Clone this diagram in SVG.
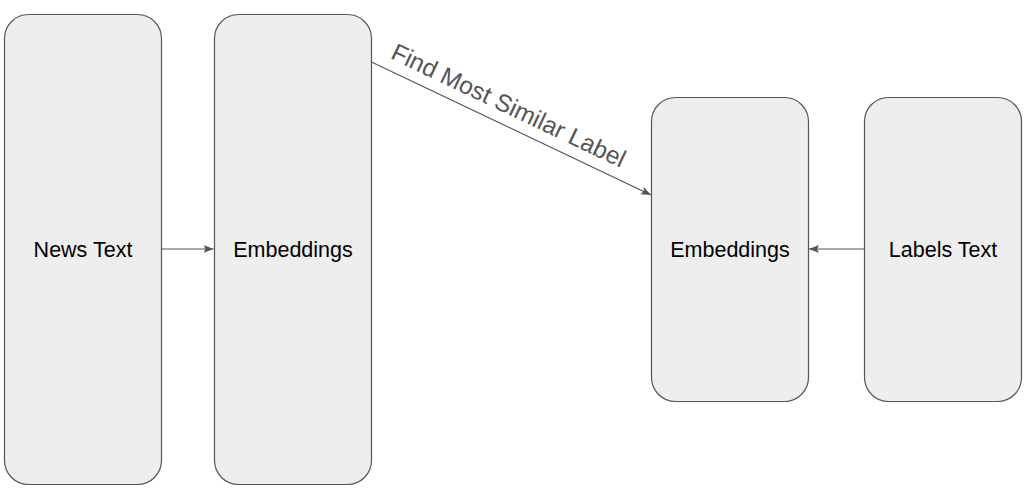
<svg xmlns="http://www.w3.org/2000/svg" width="1032" height="496" viewBox="0 0 1032 496">
<style>
.box{fill:#eeeeee;stroke:#555555;stroke-width:1.2}
.lbl{font-family:"Liberation Sans",Arial,sans-serif;font-size:21.5px;fill:#000000;text-anchor:middle;dominant-baseline:central}
.edge{stroke:#555555;stroke-width:1.2;fill:none}
.elbl{font-family:"Liberation Sans",Arial,sans-serif;font-size:24.5px;fill:#555555;text-anchor:middle}
</style>
<defs>
<marker id="ah" viewBox="0 0 10 10" refX="10" refY="5" markerWidth="10" markerHeight="10" markerUnits="userSpaceOnUse" orient="auto">
<path d="M0,1 L10,5 L0,9 L2,5 Z" fill="#555555"/>
</marker>
</defs>
<rect width="1032" height="496" fill="#ffffff"/>
<g id="news-text"><rect class="box" x="4.5" y="14.5" width="157" height="470" rx="24"/><text class="lbl" x="83" y="250">News Text</text></g>
<g id="embeddings-1"><rect class="box" x="214.5" y="14.5" width="157" height="470" rx="24"/><text class="lbl" x="293" y="250">Embeddings</text></g>
<g id="embeddings-2"><rect class="box" x="651.5" y="97.5" width="157" height="304" rx="24"/><text class="lbl" x="730" y="250">Embeddings</text></g>
<g id="labels-text"><rect class="box" x="864.5" y="97.5" width="157" height="304" rx="24"/><text class="lbl" x="943" y="250">Labels Text</text></g>
<g id="connectors">
<line class="edge" x1="161.5" y1="249" x2="213.5" y2="249" marker-end="url(#ah)"/>
<line class="edge" x1="864.5" y1="249" x2="809" y2="249" marker-end="url(#ah)"/>
<line class="edge" x1="371.5" y1="62" x2="651" y2="195" marker-end="url(#ah)"/>
<text class="elbl" transform="translate(505,113) rotate(25.4)">Find Most Similar Label</text>
</g>
</svg>
